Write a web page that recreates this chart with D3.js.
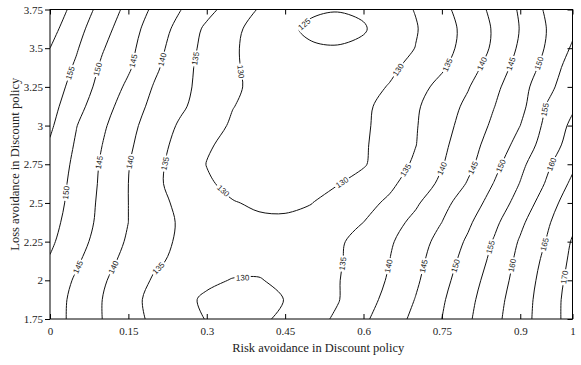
<!DOCTYPE html>
<html>
<head>
<meta charset="utf-8">
<script src="https://cdn.jsdelivr.net/npm/d3@7"></script>
<style>
body { margin: 0; background: #fff; }
svg { display: block; font-family: "Liberation Serif", "Times New Roman", serif; }
</style>
</head>
<body>
<div id="chart"></div>
<script>

// risk avoidance (columns) and loss avoidance (rows, top to bottom)
var xValues = [0, 0.05, 0.1, 0.15, 0.2, 0.25, 0.3, 0.35, 0.4, 0.45, 0.5,
               0.55, 0.6, 0.65, 0.7, 0.75, 0.8, 0.85, 0.9, 0.95, 1];
var yValues = [3.75, 3.625, 3.5, 3.375, 3.25, 3.125, 3, 2.875, 2.75,
               2.625, 2.5, 2.375, 2.25, 2.125, 2, 1.875, 1.75];

// surface values, one row per yValues entry
var zRows = [
  [163.3,158.3,153.3,148.6,144.0,140.1,136.4,132.9,129.7,128.0,125.8,125.3,125.7,128.3,130.2,133.7,137.3,141.2,145.6,150.7,154.0],
  [161.7,156.7,151.9,147.1,142.7,138.4,134.1,131.0,128.4,126.1,124.0,123.0,124.6,127.4,129.7,132.9,136.5,140.5,145.2,150.0,154.0],
  [160.0,155.5,150.4,146.3,141.8,137.4,133.6,130.5,128.5,126.8,125.6,125.4,125.9,128.0,130.1,133.3,136.7,140.8,145.8,150.4,155.6],
  [158.6,154.3,149.2,145.6,140.9,136.7,133.3,130.4,129.0,128.0,127.0,126.8,127.5,129.0,131.6,134.4,138.0,142.3,146.9,151.6,157.5],
  [157.6,153.2,148.2,144.1,139.6,136.3,133.3,130.6,129.0,128.0,127.5,127.5,128.3,130.3,133.3,136.4,139.7,143.9,148.0,153.5,158.0],
  [156.8,151.7,147.0,142.7,138.6,135.7,132.9,130.1,128.8,128.0,127.7,127.8,129.0,131.7,134.4,137.6,141.0,144.9,148.5,155.2,159.3],
  [155.8,150.2,145.8,141.5,137.6,134.4,131.6,129.5,128.5,128.0,127.8,128.0,129.3,131.8,134.7,138.2,142.0,145.9,150.0,156.2,161.0],
  [154.5,149.5,145.0,140.8,136.9,133.5,130.4,129.0,128.3,128.0,127.9,128.2,129.5,132.0,134.9,138.9,143.0,147.1,151.7,157.3,162.0],
  [153.5,148.9,144.4,140.2,136.3,133.0,129.9,128.8,128.3,128.0,128.0,128.3,129.6,132.6,135.8,139.7,143.8,148.5,153.8,159.0,164.0],
  [152.8,148.5,144.2,140.0,136.0,133.1,130.5,129.0,128.6,128.6,129.0,129.8,131.6,134.1,137.2,141.0,145.4,150.2,155.2,160.4,166.0],
  [152.3,148.2,143.9,140.0,136.5,134.0,132.2,130.2,129.5,129.3,129.9,131.8,133.6,135.8,139.3,143.5,147.5,151.9,157.0,162.4,168.0],
  [151.6,147.7,143.7,140.0,136.9,134.5,133.0,131.5,130.6,130.6,131.3,133.0,135.0,138.0,141.3,145.0,149.2,153.9,159.0,164.2,169.0],
  [150.8,146.9,143.0,139.4,136.6,134.3,133.0,132.0,131.4,131.3,132.3,134.3,136.6,139.4,142.8,146.6,150.7,155.4,160.5,165.2,170.4],
  [149.6,145.7,141.8,138.5,135.7,134.0,132.5,131.5,131.0,131.0,132.2,134.4,137.2,140.0,143.6,147.6,151.8,156.3,161.4,166.2,171.0],
  [148.2,144.4,140.6,137.4,134.5,132.5,130.8,129.8,129.8,130.8,132.5,134.7,137.5,140.5,144.3,148.5,152.8,157.3,162.0,167.0,171.5],
  [147.4,143.7,140.0,136.6,133.6,131.2,129.3,128.5,128.5,130.1,132.4,134.7,138.0,141.5,145.2,149.4,153.7,158.1,162.7,167.4,172.0],
  [147.3,143.6,140.0,136.8,134.0,131.9,129.8,128.6,129.0,131.1,133.3,135.7,139.2,142.6,146.2,150.0,154.3,158.7,163.0,167.5,172.0]
];

var levels = [125, 130, 135, 140, 145, 150, 155, 160, 165, 170];
var xTicks = [0, 0.15, 0.3, 0.45, 0.6, 0.75, 0.9, 1];
var yTicks = [1.75, 2, 2.25, 2.5, 2.75, 3, 3.25, 3.5, 3.75];

var xTitle = "Risk avoidance in Discount policy";
var yTitle = "Loss avoidance in Discount policy";

var W = 581, H = 365;
var margin = {top: 9.5, right: 8.5, bottom: 46, left: 50};
var width = W - margin.left - margin.right;
var height = H - margin.top - margin.bottom;

var svg = d3.select("#chart").append("svg")
    .attr("width", W)
    .attr("height", H);

svg.append("defs").append("clipPath")
    .attr("id", "plotClip")
    .append("rect")
    .attr("width", width)
    .attr("height", height);

var g = svg.append("g")
    .attr("transform", "translate(" + margin.left + "," + margin.top + ")");

var x = d3.scaleLinear().domain([0, 1]).range([0, width]);
var y = d3.scaleLinear().domain([1.75, 3.75]).range([height, 0]);

var nx = xValues.length, ny = yValues.length;

// grid coordinates from d3.contours -> pixels (sample k sits at k + 0.5)
var gx = d3.scaleLinear().domain([0.5, nx - 0.5]).range([x(xValues[0]), x(xValues[nx - 1])]);
var gy = d3.scaleLinear().domain([0.5, ny - 0.5]).range([y(yValues[0]), y(yValues[ny - 1])]);

var values = [];
zRows.forEach(function(row){ row.forEach(function(v){ values.push(v); }); });

var contours = d3.contours()
    .size([nx, ny])
    .thresholds(levels)(values);

// break rings where they run along the outside frame, keep only the real isolines
function onEdge(p){
    return p[0] <= 0 || p[0] >= nx || p[1] <= 0 || p[1] >= ny;
}

function splitRing(ring){
    var pts = ring.slice();
    var a = pts[0], b = pts[pts.length - 1];
    if (a[0] === b[0] && a[1] === b[1]) pts.pop();
    var start = pts.findIndex(onEdge);
    if (start < 0) return [{closed: true, pts: pts}];
    var rot = pts.slice(start).concat(pts.slice(0, start));
    var runs = [], cur = [];
    rot.forEach(function(p){
        if (onEdge(p)) {
            if (cur.length > 1) runs.push({closed: false, pts: cur});
            cur = [];
        } else {
            cur.push(p);
        }
    });
    if (cur.length > 1) runs.push({closed: false, pts: cur});
    return runs;
}

var isolines = [];
contours.forEach(function(c){
    c.coordinates.forEach(function(poly){
        poly.forEach(function(ring){
            splitRing(ring).forEach(function(run){
                run.level = c.value;
                run.px = run.pts.map(function(p){ return [gx(p[0]), gy(p[1])]; });
                isolines.push(run);
            });
        });
    });
});

var lineOpen = d3.line().curve(d3.curveCatmullRom.alpha(0.5));
var lineClosed = d3.line().curve(d3.curveCatmullRomClosed.alpha(0.5));

var plot = g.append("g").attr("clip-path", "url(#plotClip)");

plot.selectAll("path.iso")
    .data(isolines)
    .enter().append("path")
    .attr("class", "iso")
    .attr("d", function(d){ return d.closed ? lineClosed(d.px) : lineOpen(d.px); })
    .attr("fill", "none")
    .attr("stroke", "#111")
    .attr("stroke-width", 1);

// inline labels spaced along each isoline
var labelSpacing = 120;

function pointAt(pts, dist){
    for (var i = 1; i < pts.length; i++) {
        var p0 = pts[i - 1], p1 = pts[i];
        var seg = Math.hypot(p1[0] - p0[0], p1[1] - p0[1]);
        if (dist <= seg || i === pts.length - 1) {
            var t = seg ? Math.min(dist / seg, 1) : 0;
            return {
                x: p0[0] + t * (p1[0] - p0[0]),
                y: p0[1] + t * (p1[1] - p0[1]),
                a: Math.atan2(p1[1] - p0[1], p1[0] - p0[0]) * 180 / Math.PI
            };
        }
        dist -= seg;
    }
}

isolines.forEach(function(d){
    var pts = d.closed ? d.px.concat([d.px[0]]) : d.px;
    var L = 0;
    for (var i = 1; i < pts.length; i++) {
        L += Math.hypot(pts[i][0] - pts[i - 1][0], pts[i][1] - pts[i - 1][1]);
    }
    if (L < 50) return;
    var n = Math.max(1, Math.round(L / labelSpacing));
    for (var k = 0; k < n; k++) {
        var p = pointAt(pts, (k + 0.5) * L / n);
        var ang = p.a;
        if (ang > 90) ang -= 180;
        if (ang < -90) ang += 180;
        var lg = plot.append("g")
            .attr("transform", "translate(" + p.x + "," + p.y + ") rotate(" + ang + ")");
        var bg = lg.append("rect").attr("fill", "#fff");
        var t = lg.append("text")
            .attr("text-anchor", "middle")
            .attr("dy", "0.35em")
            .style("font-family", "'Liberation Sans', Arial, sans-serif")
            .style("font-size", "8px")
            .attr("fill", "#222")
            .text(d.level);
        var tw = t.node().getComputedTextLength() + 3;
        bg.attr("x", -tw / 2).attr("y", -4.5).attr("width", tw).attr("height", 9);
    }
});

// axes: inward ticks bottom/top/right, outward on the left
var fmt = function(d){ return String(d); };

g.append("g")
    .attr("transform", "translate(0," + height + ")")
    .call(d3.axisBottom(x).tickValues(xTicks).tickFormat(fmt).tickSize(-5).tickPadding(8));

g.append("g")
    .call(d3.axisTop(x).tickValues(xTicks).tickFormat("").tickSize(-5));

g.append("g")
    .call(d3.axisLeft(y).tickValues(yTicks).tickFormat(fmt).tickSize(5).tickPadding(2));

g.append("g")
    .attr("transform", "translate(" + width + ",0)")
    .call(d3.axisRight(y).tickValues(yTicks).tickFormat("").tickSize(-5));

g.selectAll(".domain").remove();
g.selectAll(".tick line").attr("stroke", "#000");
g.selectAll(".tick text")
    .attr("fill", "#222")
    .style("font-family", "'Liberation Serif', 'Times New Roman', serif")
    .style("font-size", "11px");

g.append("rect")
    .attr("width", width)
    .attr("height", height)
    .attr("fill", "none")
    .attr("stroke", "#000")
    .attr("stroke-width", 1);

svg.append("text")
    .attr("x", margin.left + width / 2 + 7)
    .attr("y", 352)
    .attr("text-anchor", "middle")
    .attr("fill", "#222")
    .style("font-size", "12.5px")
    .text(xTitle);

svg.append("text")
    .attr("transform", "translate(19," + (margin.top + height / 2) + ") rotate(-90)")
    .attr("text-anchor", "middle")
    .attr("fill", "#222")
    .style("font-size", "12.5px")
    .text(yTitle);

</script>
</body>
</html>
